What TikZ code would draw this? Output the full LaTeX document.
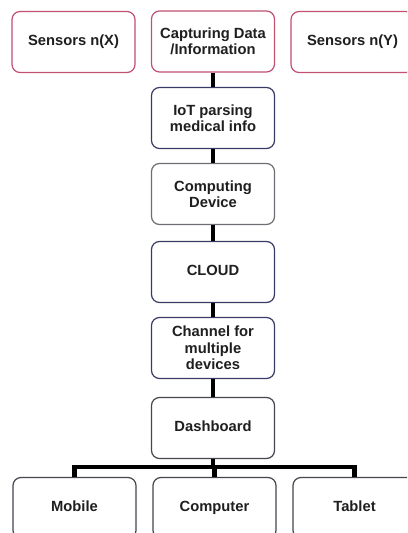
\documentclass[tikz,border=0pt]{standalone}
\usepackage{fontspec}
\setmainfont{Liberation Sans}
\begin{document}
\begin{tikzpicture}[x=1bp,y=-1bp,
  box/.style={draw=#1, line width=1.2bp, rounded corners=8bp, minimum width=123bp, minimum height=61bp,
    align=center, inner sep=0pt, font=\fontsize{14.8}{16.5}\selectfont\bfseries, text=black!88},
  one/.style={text depth=3bp},
  conn/.style={line width=4.5bp, black}]
\clip (0,0) rectangle (407,533);
\fill[white] (0,0) rectangle (407,533);
\definecolor{pinkb}{HTML}{C25070}
\definecolor{navyb}{HTML}{3A3A66}
\definecolor{grayb}{HTML}{6E6E74}
\definecolor{darkb}{HTML}{45454F}
\node[box=pinkb, one] (sx) at (73.5,42) {Sensors n(X)};
\node[box=pinkb] (cap) at (213,41.5) {Capturing Data\\/Information};
\node[box=pinkb, one] (sy) at (352.5,42) {Sensors n(Y)};
\node[box=navyb] (iot) at (213,118) {IoT parsing\\medical info};
\node[box=grayb] (comp) at (213,194) {Computing\\Device};
\node[box=navyb, one] (cloud) at (213,272) {CLOUD};
\node[box=navyb] (chan) at (213,348) {Channel for\\multiple\\devices};
\node[box=darkb, one] (dash) at (213,428) {Dashboard};
\node[box=darkb, one] (mob) at (74.5,508) {Mobile};
\node[box=darkb, one] (pc) at (214.5,508) {Computer};
\node[box=darkb, one] (tab) at (354.5,508) {Tablet};
\coordinate (bus) at (213,467);
\draw[conn] (cap) -- (iot);
\draw[conn] (iot) -- (comp);
\draw[conn] (comp) -- (cloud);
\draw[conn] (cloud) -- (chan);
\draw[conn] (chan) -- (dash);
\draw[conn] (dash) -- (bus);
\draw[conn] (bus) -| (mob.north);
\draw[conn] (bus) -| (pc.north);
\draw[conn] (bus) -| (tab.north);
\end{tikzpicture}
\end{document}
